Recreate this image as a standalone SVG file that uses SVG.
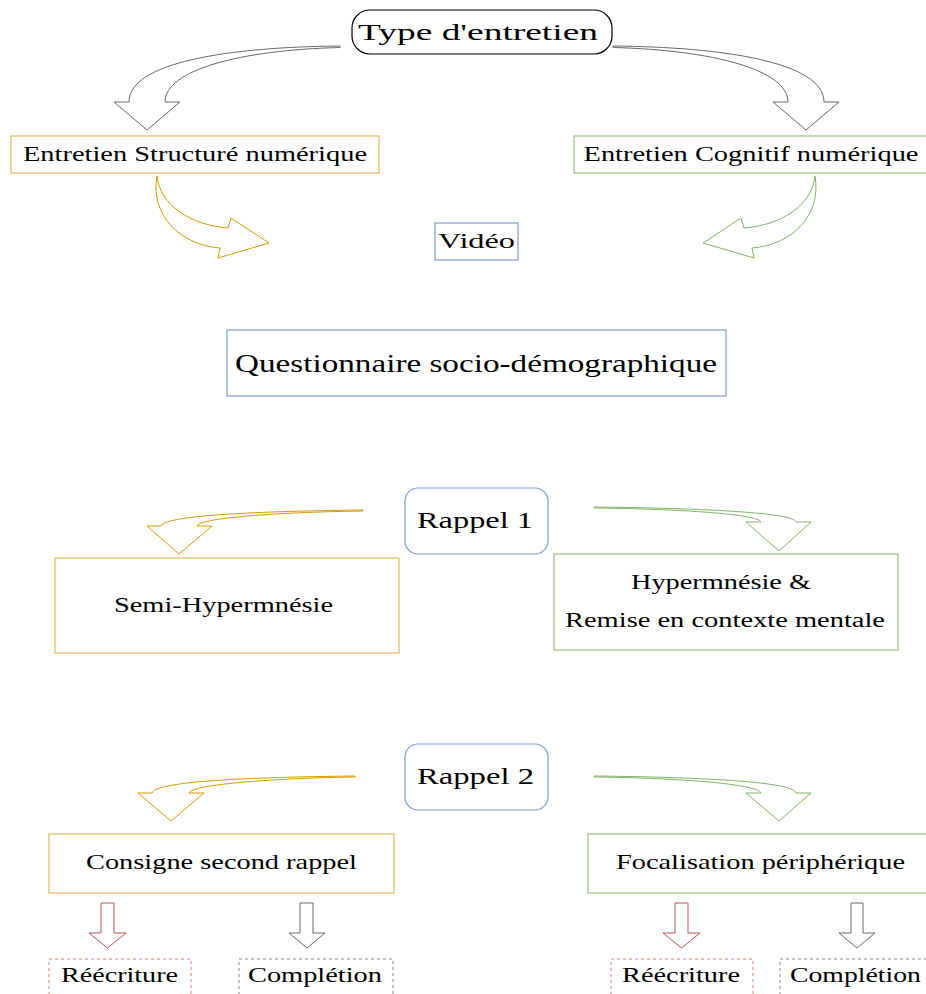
<svg xmlns="http://www.w3.org/2000/svg" width="926" height="994" viewBox="0 0 926 994">
<style>
text{font-family:"Liberation Serif","Times New Roman",serif;fill:#000;text-anchor:middle}
.box{fill:#fff;stroke-width:1.2}
.or{stroke:#e0b95e}
.gr{stroke:#97c27d}
.bl{stroke:#7f9fcc}
.ca{stroke-width:1;fill:#fff}
.dash{fill:#fff;stroke-width:1;stroke-dasharray:3 3}
</style>
<rect width="926" height="994" fill="#fff"/>
<g id="connectors">
<path class="ca" stroke="#666" d="M340,46 C230,47 129,62 129,102 L114,102 L147,130 L180,102 L165,102 C165,70 240,50 340,47.5 Z"/>
<path class="ca" stroke="#666" d="M613,46 C723,47 824,62 824,102 L839,102 L806,130 L773,102 L788,102 C788,70 713,50 613,47.5 Z"/>
<path class="ca" stroke="#d79b00" d="M157,176 C150,215 180,245 220,248 L218,258 L269,243 L231,218 L228,228 C190,225 160,205 157,176 Z"/>
<path class="ca" stroke="#82b366" d="M815,176 C822,215 792,245 752,248 L754,258 L703,243 L741,218 L744,228 C782,225 812,205 815,176 Z"/>
<path class="ca" stroke="#d79b00" d="M363,510 C280,511 165,514 161,526 L147,526 L179,554 L212,526 L197,526 C200,517 290,512 363,511 Z"/>
<path class="ca" stroke="#82b366" d="M594,507 C690,508 794,512 796,522 L811,522 L779,551 L746,522 L761,522 C758,514 680,509 594,508 Z"/>
<path class="ca" stroke="#d79b00" d="M355,776 C270,777 155,780 152,793 L138,793 L171,821 L204,793 L189,793 C192,784 280,778 355,777 Z"/>
<path class="ca" stroke="#82b366" d="M594,776 C690,777 794,781 796,793 L811,793 L779,821 L746,793 L761,793 C758,784 680,778 594,777 Z"/>
<polygon class="ca" stroke="#b85450" points="101,903 114,903 114,933 126,933 107.5,948 89,933 101,933"/>
<polygon class="ca" stroke="#666" points="300,903 313,903 313,933 325,933 307,948 289,933 300,933"/>
<polygon class="ca" stroke="#b85450" points="675,903 688,903 688,933 700,933 681.5,948 663,933 675,933"/>
<polygon class="ca" stroke="#666" points="851,903 863,903 863,933 875,933 857,948 839,933 851,933"/>
</g>
<g id="type">
<rect class="box" x="352" y="10" width="260" height="44" rx="18" stroke="#000"/>
<text x="478" y="40" font-size="24" textLength="240" lengthAdjust="spacingAndGlyphs">Type d'entretien</text>
</g>
<g id="structure">
<rect class="box or" x="11" y="136" width="368" height="37"/>
<text x="195" y="161" font-size="20" textLength="344" lengthAdjust="spacingAndGlyphs">Entretien Structuré numérique</text>
</g>
<g id="cognitif">
<rect class="box gr" x="574" y="136" width="360" height="37"/>
<text x="751" y="161" font-size="20" textLength="335" lengthAdjust="spacingAndGlyphs">Entretien Cognitif numérique</text>
</g>
<g id="video">
<rect class="box bl" x="435" y="223" width="83" height="37"/>
<text x="476.5" y="248" font-size="22" textLength="77" lengthAdjust="spacingAndGlyphs">Vidéo</text>
</g>
<g id="questionnaire">
<rect class="box bl" x="227" y="330" width="499" height="66"/>
<text x="476" y="372" font-size="26" textLength="482" lengthAdjust="spacingAndGlyphs">Questionnaire socio-démographique</text>
</g>
<g id="rappel1">
<rect class="box bl" x="405" y="488" width="143" height="66" rx="13"/>
<text x="475" y="528" font-size="23" textLength="116" lengthAdjust="spacingAndGlyphs">Rappel 1</text>
</g>
<g id="semi">
<rect class="box or" x="55" y="558" width="344" height="95"/>
<text x="223.5" y="612" font-size="21" textLength="219" lengthAdjust="spacingAndGlyphs">Semi-Hypermnésie</text>
</g>
<g id="hyper">
<rect class="box gr" x="554" y="554" width="344" height="96"/>
<text x="721" y="589" font-size="20" textLength="180" lengthAdjust="spacingAndGlyphs">Hypermnésie &amp;</text>
<text x="725" y="627" font-size="20" textLength="320" lengthAdjust="spacingAndGlyphs">Remise en contexte mentale</text>
</g>
<g id="rappel2">
<rect class="box bl" x="405" y="744" width="143" height="66" rx="13"/>
<text x="475.5" y="784" font-size="23" textLength="117" lengthAdjust="spacingAndGlyphs">Rappel 2</text>
</g>
<g id="consigne">
<rect class="box or" x="49" y="834" width="345" height="59"/>
<text x="221.5" y="869" font-size="21" textLength="271" lengthAdjust="spacingAndGlyphs">Consigne second rappel</text>
</g>
<g id="focalisation">
<rect class="box gr" x="588" y="834" width="345" height="59"/>
<text x="760.5" y="869" font-size="21" textLength="289" lengthAdjust="spacingAndGlyphs">Focalisation périphérique</text>
</g>
<g id="reecriture1">
<rect class="dash" stroke="#e07a76" x="49" y="959" width="142" height="50"/>
<text x="119.5" y="982" font-size="20" textLength="117" lengthAdjust="spacingAndGlyphs">Réécriture</text>
</g>
<g id="completion1">
<rect class="dash" stroke="#888" x="239" y="959" width="154" height="50"/>
<text x="315" y="982" font-size="20" textLength="134" lengthAdjust="spacingAndGlyphs">Complétion</text>
</g>
<g id="reecriture2">
<rect class="dash" stroke="#e07a76" x="611" y="959" width="142" height="50"/>
<text x="681" y="982" font-size="20" textLength="118" lengthAdjust="spacingAndGlyphs">Réécriture</text>
</g>
<g id="completion2">
<rect class="dash" stroke="#888" x="780" y="959" width="154" height="50"/>
<text x="855.5" y="982" font-size="20" textLength="131" lengthAdjust="spacingAndGlyphs">Complétion</text>
</g>
</svg>
